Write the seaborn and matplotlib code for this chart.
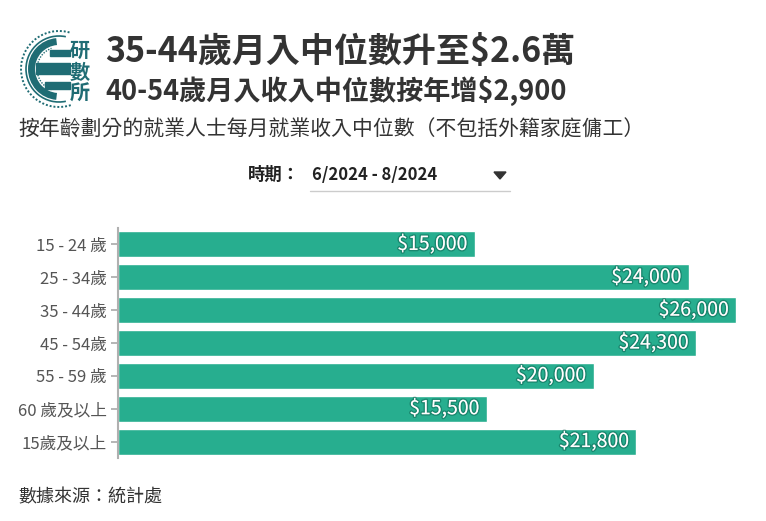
import matplotlib
matplotlib.use("Agg")
import matplotlib.pyplot as plt
import seaborn as sns
import pandas as pd
from matplotlib.patches import Arc, Rectangle, Polygon
import matplotlib.patheffects as pe

categories = ["15 - 24 歲", "25 - 34歲", "35 - 44歲", "45 - 54歲", "55 - 59 歲", "60 歲及以上", "15歲及以上"]
values = [15000, 24000, 26000, 24300, 20000, 15500, 21800]
value_labels = ["$15,000", "$24,000", "$26,000", "$24,300", "$20,000", "$15,500", "$21,800"]

title1 = "35-44歲月入中位數升至$2.6萬"
title2 = "40-54歲月入收入中位數按年增$2,900"
subtitle = "按年齡劃分的就業人士每月就業收入中位數（不包括外籍家庭傭工）"
period_label = "時期："
period_value = "6/2024 - 8/2024"
source = "數據來源：統計處"

sns.set_theme(style="white")
plt.rcParams['font.family'] = ['Noto Sans CJK TC', 'DejaVu Sans']

W, H = 766, 521
BAR = "#27ae8f"
TEAL = "#1f6c74"
fig = plt.figure(figsize=(W / 100, H / 100), dpi=100)
fig.patch.set_facecolor("white")

ax = fig.add_axes([118 / W, 1 - 458 / H, (760 - 118) / W, 230 / H])
df = pd.DataFrame({"age": categories, "income": values})
sns.barplot(data=df, x="income", y="age", orient="h", color=BAR, width=0.79,
            saturation=1, ax=ax)
ax.set_xlim(0, 27000)
ax.set_ylim(6.5, -0.5)
ax.set_xticks([])
ax.set_xlabel("")
ax.set_ylabel("")
for s in ["top", "right", "bottom"]:
    ax.spines[s].set_visible(False)
ax.spines["left"].set_color("#b0b0b0")
ax.spines["left"].set_linewidth(1.5)
ax.tick_params(axis="y", left=True, length=5, width=1.3, color="#b0b0b0",
               labelsize=12, labelcolor="#555555", pad=3)
ax.set_facecolor("none")

for i, (v, lab) in enumerate(zip(values, value_labels)):
    ax.annotate(lab, xy=(v, i), xytext=(-5, 0), textcoords="offset points",
                ha="right", va="center", color="white", fontsize=14,
                fontweight="medium",
                path_effects=[pe.withStroke(linewidth=2, foreground=(0, 0.25, 0.2, 0.35))])

# overlay in pixel coordinates for header, footer and logo
ov = fig.add_axes([0, 0, 1, 1])
ov.set_xlim(0, W)
ov.set_ylim(H, 0)
ov.axis("off")
ov.patch.set_alpha(0)

ov.text(105, 52, title1, fontsize=24.5, fontweight="bold", color="#333333", va="center")
ov.text(105, 91, title2, fontsize=19.5, fontweight="bold", color="#333333", va="center")
ov.text(18, 129, subtitle, fontsize=15, color="#333333", va="center")
ov.text(248, 175, period_label, fontsize=12.5, fontweight="bold", color="#222222", va="center")
ov.text(312, 175, period_value, fontsize=12, fontweight="bold", color="#222222", va="center")
ov.add_patch(Polygon([[494, 172], [506, 172], [500, 179]], closed=True, color="#333333"))
ov.plot([310, 510], [191, 191], color="#cccccc", lw=1)
ov.text(18, 497, source, fontsize=13, color="#333333", va="center")

# logo
cx, cy = 59, 69
ov.add_patch(Arc((cx, cy), 76, 76, theta1=72, theta2=288, color=TEAL, lw=1.4, ls=(0, (1, 1))))
ov.add_patch(Arc((cx, cy), 66, 66, theta1=78, theta2=282, color=TEAL, lw=1.2))
ov.add_patch(Arc((cx, cy), 55, 55, theta1=95, theta2=265, color=TEAL, lw=5))
ov.add_patch(Arc((cx, cy), 44, 44, theta1=110, theta2=250, color=TEAL, lw=1.0, ls=(0, (1, 1))))
ov.add_patch(Rectangle((50, 50), 20, 6, color=TEAL))
ov.add_patch(Rectangle((36, 63), 34, 11, color=TEAL))
ov.add_patch(Rectangle((45, 82), 25, 7, color=TEAL))
for ch, yy in zip("研數所", [50, 72, 93]):
    ov.text(80, yy, ch, fontsize=14.5, fontweight="bold", color=TEAL, ha="center", va="center")

fig.savefig("out.png", dpi=100, facecolor="white")
